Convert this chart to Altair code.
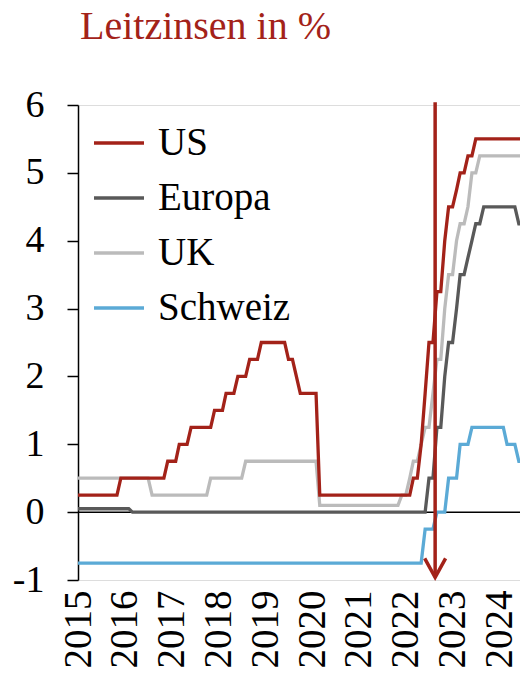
import altair as alt
import pandas as pd

FONT = "Liberation Serif"
RED = "#A32219"

title_text = "Leitzinsen in %"
series_order = ["US", "Europa", "UK", "Schweiz"]
series_colors = [RED, "#595959", "#BBBBBB", "#5BAAD6"]
draw_order = ["Schweiz", "UK", "Europa", "US"]
year_ticks = list(range(2015, 2025))
y_ticks = [-1, 0, 1, 2, 3, 4, 5, 6]

us_dates = ["2015-01", "2015-11", "2015-12", "2016-11", "2016-12", "2017-02", "2017-03",
            "2017-05", "2017-06", "2017-11", "2017-12", "2018-02", "2018-03", "2018-05",
            "2018-06", "2018-08", "2018-09", "2018-11", "2018-12", "2019-06", "2019-07",
            "2019-08", "2019-10", "2020-02", "2020-03", "2022-02", "2022-03", "2022-04",
            "2022-05", "2022-06", "2022-07", "2022-08", "2022-09", "2022-10", "2022-11",
            "2022-12", "2023-01", "2023-02", "2023-03", "2023-04", "2023-05", "2023-06",
            "2023-07", "2024-08", "2024-09"]
us_values = [0.25, 0.25, 0.5, 0.5, 0.75, 0.75, 1.0,
             1.0, 1.25, 1.25, 1.5, 1.5, 1.75, 1.75,
             2.0, 2.0, 2.25, 2.25, 2.5, 2.5, 2.25,
             2.25, 1.75, 1.75, 0.25, 0.25, 0.5, 0.5,
             1.0, 1.75, 2.5, 2.5, 3.25, 3.25, 4.0,
             4.5, 4.5, 4.75, 5.0, 5.0, 5.25, 5.25,
             5.5, 5.5, 5.0]

eu_dates = ["2015-01", "2016-02", "2016-03", "2022-06", "2022-07", "2022-08", "2022-09",
            "2022-10", "2022-11", "2022-12", "2023-01", "2023-02", "2023-03", "2023-04",
            "2023-05", "2023-06", "2023-07", "2023-08", "2023-09", "2024-05", "2024-06",
            "2024-08", "2024-09"]
eu_values = [0.05, 0.05, 0.0, 0.0, 0.5, 0.5, 1.25,
             1.25, 2.0, 2.5, 2.5, 3.0, 3.5, 3.5,
             3.75, 4.0, 4.25, 4.25, 4.5, 4.5, 4.25,
             4.25, 3.65]

uk_dates = ["2015-01", "2016-07", "2016-08", "2017-10", "2017-11", "2018-07", "2018-08",
            "2020-02", "2020-03", "2021-11", "2021-12", "2022-01", "2022-02", "2022-03",
            "2022-04", "2022-05", "2022-06", "2022-07", "2022-08", "2022-09", "2022-10",
            "2022-11", "2022-12", "2023-01", "2023-02", "2023-03", "2023-04", "2023-05",
            "2023-06", "2023-07", "2023-08", "2024-07", "2024-08"]
uk_values = [0.5, 0.5, 0.25, 0.25, 0.5, 0.5, 0.75,
             0.75, 0.1, 0.1, 0.25, 0.25, 0.5, 0.75,
             0.75, 1.0, 1.25, 1.25, 1.75, 2.25, 2.25,
             3.0, 3.5, 3.5, 4.0, 4.25, 4.25, 4.5,
             5.0, 5.0, 5.25, 5.25, 5.0]

ch_dates = ["2015-01", "2022-05", "2022-06", "2022-08", "2022-09", "2022-11", "2022-12",
            "2023-02", "2023-03", "2023-05", "2023-06", "2024-02", "2024-03", "2024-05",
            "2024-06", "2024-09"]
ch_values = [-0.75, -0.75, -0.25, -0.25, 0.0, 0.0, 0.5,
             0.5, 1.0, 1.0, 1.25, 1.25, 1.0, 1.0,
             0.75, 0.75]

arrow_date = "2022-08-18"
arrow_top = 6.04
arrow_tip = -0.96

rows = []
for name, ds, vs in [("US", us_dates, us_values), ("Europa", eu_dates, eu_values),
                     ("UK", uk_dates, uk_values), ("Schweiz", ch_dates, ch_values)]:
    for d, v in zip(ds, vs):
        rows.append({"series": name, "date": d + "-01", "value": v})
df = pd.DataFrame(rows)

x_enc = alt.X(
    "date:T",
    title=None,
    scale=alt.Scale(
        type="utc",
        domain=[alt.DateTime(year=2015, month=1, date=1, utc=True),
                alt.DateTime(year=2024, month=6, date=10, utc=True)],
    ),
    axis=alt.Axis(
        values=[alt.DateTime(year=y, month=1, date=1, utc=True) for y in year_ticks],
        format="%Y",
        labelAngle=270,
        labelFont=FONT,
        labelFontSize=39,
        labelColor="black",
        labelPadding=10,
        labelFlush=False,
        labelOverlap=False,
        labelOffset=0,
        domain=False,
        ticks=False,
        grid=False,
    ),
)

y_enc = alt.Y(
    "value:Q",
    title=None,
    scale=alt.Scale(domain=[-1, 6], nice=False, zero=False),
    axis=alt.Axis(
        values=y_ticks,
        labelExpr="'' + datum.value",
        labelFont=FONT,
        labelFontSize=38,
        labelColor="black",
        labelPadding=23,
        domain=True,
        domainColor="black",
        domainWidth=1.5,
        ticks=True,
        tickColor="black",
        tickSize=11,
        tickWidth=1.5,
        grid=False,
    ),
)

color_enc = alt.Color(
    "series:N",
    scale=alt.Scale(domain=series_order, range=series_colors),
    legend=alt.Legend(
        title=None,
        orient="none",
        legendX=14,
        legendY=11,
        symbolType="stroke",
        symbolSize=2500,
        symbolStrokeWidth=3.5,
        labelFont=FONT,
        labelFontSize=39,
        labelColor="black",
        labelOffset=12,
        labelLimit=400,
        rowPadding=8,
        padding=0,
    ),
)

zero_df = pd.DataFrame({"value": [0.0]})
zero_rule = alt.Chart(zero_df).mark_rule(color="black", strokeWidth=1.5).encode(y=y_enc)

line_layers = [
    alt.Chart(df)
    .transform_filter(alt.datum.series == s)
    .mark_line(strokeWidth=3.3, clip=True)
    .encode(x=x_enc, y=y_enc, color=color_enc)
    for s in draw_order
]

arrow_df = pd.DataFrame({"date": [arrow_date], "value": [arrow_top], "tip": [arrow_tip]})
arrow_line = alt.Chart(arrow_df).mark_rule(color=RED, strokeWidth=3.5).encode(
    x=x_enc, y=y_enc, y2="tip:Q"
)
head_df = pd.DataFrame({"date": [arrow_date], "value": [arrow_tip]})
arrow_head = alt.Chart(head_df).mark_point(
    shape="M -0.55 -1 L 0 0 L 0.55 -1",
    size=1444,
    filled=False,
    stroke=RED,
    strokeWidth=3.5,
    opacity=1,
).encode(x=x_enc, y=y_enc)

chart = (
    alt.layer(zero_rule, *line_layers, arrow_line, arrow_head)
    .properties(
        width=442,
        height=475,
        padding={"left": 70, "top": 97, "right": 0, "bottom": 92},
        autosize=alt.AutoSizeParams(type="none"),
        title=alt.TitleParams(
            text=title_text,
            font=FONT,
            fontSize=40,
            fontWeight="normal",
            color=RED,
            anchor="start",
            frame="group",
            baseline="alphabetic",
            offset=7,
            dx=2,
        ),
    )
    .configure_view(stroke=None)
    .configure(background="white")
)

chart.save("out.html", embed_options={"renderer": "svg", "actions": False})
